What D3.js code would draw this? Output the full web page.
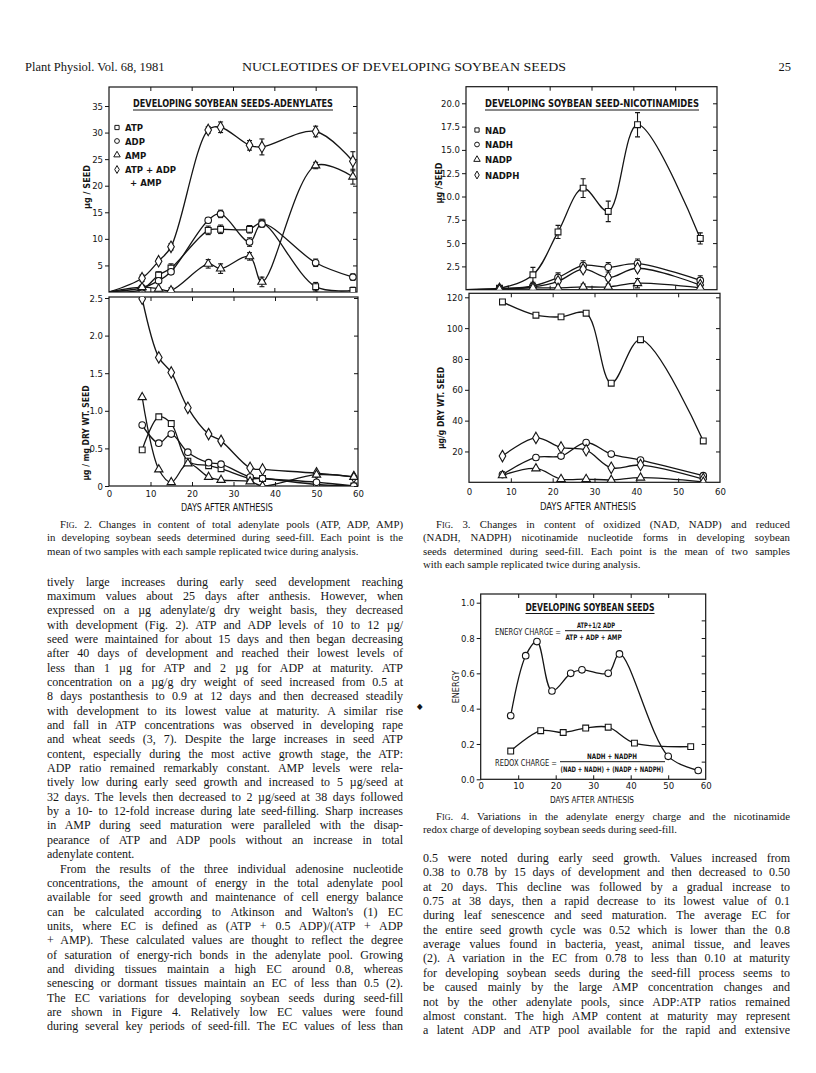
<!DOCTYPE html>
<html>
<head>
<meta charset="utf-8">
<script src="https://cdn.jsdelivr.net/npm/d3@7"></script>
<style>
  body { margin: 0; background: #fff; }
  svg { display: block; }
</style>
</head>
<body>
<svg id="page" width="816" height="1073"></svg>
<script>
// ---- Fig. 2 : adenylates, ug per seed (top panel) ----
const adenDaysSeed = [0, 8, 12, 15, 24, 27, 34, 37, 50, 59];
const atpSeed = [0, 0.5, 3.2, 4.5, 11.6, 11.8, 11.8, 13.0, 1.0, 0.3];
const adpSeed = [0, 0.8, 2.1, 3.8, 13.5, 14.7, 9.4, 12.8, 5.5, 2.8];
const ampSeed = [0, 0.9, 0.6, 0.3, 5.3, 4.4, 6.7, 1.9, 23.8, 21.7];
const totSeed = [0, 2.6, 5.8, 8.5, 30.5, 31.0, 27.6, 27.3, 30.2, 24.6];
const atpSeedErr = [0, 0, 0.6, 0.8, 0.8, 0.8, 0.7, 0.7, 0.8, 0.6];
const adpSeedErr = [0, 0, 0, 0, 0.5, 0.7, 0.8, 0.6, 0.7, 0.6];
const ampSeedErr = [0, 0, 0, 0.5, 0.8, 0.9, 0.7, 0.9, 0.6, 1.4];
const totSeedErr = [0, 0.6, 0.5, 0.6, 0.6, 1.0, 0.9, 1.5, 1.0, 1.8];

// ---- Fig. 2 : adenylates, ug per mg dry wt (bottom panel) ----
const adenDaysDry = [8, 12, 15, 19, 24, 27, 34, 37, 50, 59];
const atpDry = [0.48, 0.92, 0.83, 0.33, 0.27, 0.23, 0.10, 0.10, 0.02, 0.0];
const adpDry = [0.81, 0.57, 0.69, 0.45, 0.31, 0.29, 0.12, 0.10, 0.05, 0.0];
const ampDry = [1.18, 0.22, 0.05, 0.30, 0.12, 0.08, 0.06, 0.0, 0.15, 0.12];
const totDry = [2.49, 1.71, 1.51, 1.04, 0.69, 0.60, 0.24, 0.22, 0.17, 0.12];

// ---- Fig. 3 : nicotinamides ----
const nicDaysSeed = [0, 8, 16, 22, 28, 34, 41, 56];
const nadSeed = [0, 0.15, 1.6, 6.2, 10.9, 8.4, 17.7, 5.5];
const nadhSeed = [0, 0.1, 0.4, 1.3, 2.6, 2.4, 2.8, 1.0];
const nadpSeed = [0, 0.05, 0.2, 0.2, 0.3, 0.3, 0.7, 0.2];
const nadphSeed = [0, 0.1, 0.3, 0.9, 2.2, 1.3, 2.3, 0.5];
const nadSeedErr = [0, 0.1, 0.8, 0.7, 1.0, 1.1, 1.3, 0.6];
const nadhSeedErr = [0, 0, 0.2, 0.5, 0.5, 0.5, 0.5, 0.5];
const nadpSeedErr = [0, 0, 0, 0, 0.3, 0.3, 0.5, 0.2];
const nadphSeedErr = [0, 0, 0, 0, 0.3, 0.3, 0.3, 0];

const nicDaysDry = [8, 16, 22, 28, 34, 41, 56];
const nadDry = [117, 108.4, 107.3, 109.7, 64.3, 92.5, 26.8];
const nadhDry = [5, 16.1, 17, 25.8, 18.3, 14.4, 4.3];
const nadpDry = [4.5, 9, 2.1, 2.1, 1.5, 3, 0.3];
const nadphDry = [17, 28.8, 22.6, 20.8, 9.4, 11.2, 2.1];

// ---- Fig. 4 : energy / redox charge ----
const ecDays = [8, 12, 15, 19, 24, 27, 34, 37, 50, 58];
const energyCharge = [0.36, 0.70, 0.78, 0.50, 0.60, 0.62, 0.60, 0.71, 0.13, 0.05];
const rcDays = [8, 16, 22, 28, 34, 41, 56];
const redoxCharge = [0.16, 0.275, 0.265, 0.29, 0.295, 0.205, 0.185];

// legends / tick labels
const adenLegend = ["ATP", "ADP", "AMP", "ATP + ADP"];
const nicLegend = ["NAD", "NADH", "NADP", "NADPH"];
const dayTicks = [0, 10, 20, 30, 40, 50, 60];
const innerDayTicks = [10, 20, 30, 40, 50];

// page text
const headerLeft = "Plant Physiol. Vol. 68, 1981";
const headerTitle = "NUCLEOTIDES OF DEVELOPING SOYBEAN SEEDS";
const headerPage = "25";

const fig2Caption = [
  "Fig. 2. Changes in content of total adenylate pools (ATP, ADP, AMP)",
  "in developing soybean seeds determined during seed-fill. Each point is the",
  "mean of two samples with each sample replicated twice during analysis."
];
const fig3Caption = [
  "Fig. 3. Changes in content of oxidized (NAD, NADP) and reduced",
  "(NADH, NADPH) nicotinamide nucleotide forms in developing soybean",
  "seeds determined during seed-fill. Each point is the mean of two samples",
  "with each sample replicated twice during analysis."
];
const fig4Caption = [
  "Fig. 4. Variations in the adenylate energy charge and the nicotinamide",
  "redox charge of developing soybean seeds during seed-fill."
];

const leftText = [
  "tively large increases during early seed development reaching",
  "maximum values about 25 days after anthesis. However, when",
  "expressed on a µg adenylate/g dry weight basis, they decreased",
  "with development (Fig. 2). ATP and ADP levels of 10 to 12 µg/",
  "seed were maintained for about 15 days and then began decreasing",
  "after 40 days of development and reached their lowest levels of",
  "less than 1 µg for ATP and 2 µg for ADP at maturity. ATP",
  "concentration on a µg/g dry weight of seed increased from 0.5 at",
  "8 days postanthesis to 0.9 at 12 days and then decreased steadily",
  "with development to its lowest value at maturity. A similar rise",
  "and fall in ATP concentrations was observed in developing rape",
  "and wheat seeds (3, 7). Despite the large increases in seed ATP",
  "content, especially during the most active growth stage, the ATP:",
  "ADP ratio remained remarkably constant. AMP levels were rela-",
  "tively low during early seed growth and increased to 5 µg/seed at",
  "32 days. The levels then decreased to 2 µg/seed at 38 days followed",
  "by a 10- to 12-fold increase during late seed-filling. Sharp increases",
  "in AMP during seed maturation were paralleled with the disap-",
  "pearance of ATP and ADP pools without an increase in total",
  "adenylate content.",
  "From the results of the three individual adenosine nucleotide",
  "concentrations, the amount of energy in the total adenylate pool",
  "available for seed growth and maintenance of cell energy balance",
  "can be calculated according to Atkinson and Walton's (1) EC",
  "units, where EC is defined as (ATP + 0.5 ADP)/(ATP + ADP",
  "+ AMP). These calculated values are thought to reflect the degree",
  "of saturation of energy-rich bonds in the adenylate pool. Growing",
  "and dividing tissues maintain a high EC around 0.8, whereas",
  "senescing or dormant tissues maintain an EC of less than 0.5 (2).",
  "The EC variations for developing soybean seeds during seed-fill",
  "are shown in Figure 4. Relatively low EC values were found",
  "during several key periods of seed-fill. The EC values of less than"
];
const leftParaEnd = [19];
const leftIndent = [20];

const rightText = [
  "0.5 were noted during early seed growth. Values increased from",
  "0.38 to 0.78 by 15 days of development and then decreased to 0.50",
  "at 20 days. This decline was followed by a gradual increase to",
  "0.75 at 38 days, then a rapid decrease to its lowest value of 0.1",
  "during leaf senescence and seed maturation. The average EC for",
  "the entire seed growth cycle was 0.52 which is lower than the 0.8",
  "average values found in bacteria, yeast, animal tissue, and leaves",
  "(2). A variation in the EC from 0.78 to less than 0.10 at maturity",
  "for developing soybean seeds during the seed-fill process seems to",
  "be caused mainly by the large AMP concentration changes and",
  "not by the other adenylate pools, since ADP:ATP ratios remained",
  "almost constant. The high AMP content at maturity may represent",
  "a latent ADP and ATP pool available for the rapid and extensive"
];

const INK = "#151515";
const FIG_FONT = "'DejaVu Sans Condensed','Liberation Sans Narrow','DejaVu Sans',sans-serif";
const SERIF = "'Liberation Serif','DejaVu Serif',serif";

const svg = d3.select("#page");
svg.append("rect").attr("width", 816).attr("height", 1073).attr("fill", "#fff");

const SYM = {
  square: [d3.symbolSquare, 34],
  circle: [d3.symbolCircle, 34],
  triangle: [d3.symbolTriangle, 30],
  diamond: [d3.symbolDiamond, 38]
};

let clipCount = 0;

// box + ticks; left ticks point out, the rest point in
function frame(g, x, y, top, o) {
  const [xl, xr] = x.range();
  const yb = y.range()[0];
  g.append("rect")
    .attr("x", xl).attr("y", top)
    .attr("width", xr - xl).attr("height", yb - top)
    .attr("fill", "none").attr("stroke", INK).attr("stroke-width", 1.2);

  g.append("g").attr("transform", `translate(${xl},0)`)
    .call(d3.axisLeft(y).tickValues(o.yTicks).tickFormat(o.yFmt).tickSize(4).tickPadding(2));
  g.append("g").attr("transform", `translate(${xr},0)`)
    .call(d3.axisLeft(y).tickValues(o.yRight || o.yTicks).tickFormat("").tickSize(4));
  g.append("g").attr("transform", `translate(0,${top})`)
    .call(d3.axisBottom(x).tickValues(innerDayTicks).tickFormat("").tickSize(4));
  g.append("g").attr("transform", `translate(0,${yb})`)
    .call(d3.axisTop(x).tickValues(innerDayTicks).tickFormat("").tickSize(4));
  if (o.xLabels) {
    g.append("g").attr("transform", `translate(0,${yb})`)
      .call(d3.axisBottom(x).tickValues(dayTicks).tickFormat(d3.format("d"))
        .tickSize(0).tickPadding(o.xPad || 5));
  }
  g.selectAll(".domain").remove();
  g.selectAll(".tick line").attr("stroke", INK).attr("stroke-width", 1);
  g.selectAll(".tick text").attr("fill", INK)
    .attr("font-family", FIG_FONT).attr("font-size", o.fontSize || 9.5);

  // clip for curves
  const id = "clip" + (clipCount++);
  g.append("clipPath").attr("id", id).append("rect")
    .attr("x", xl).attr("y", top).attr("width", xr - xl).attr("height", yb - top);
  return g.append("g").attr("clip-path", `url(#${id})`);
}

function series(g, x, y, days, vals, sym, errs) {
  const pts = days.map((d, i) => [d, vals[i]]);
  const line = d3.line()
    .x(d => x(d[0])).y(d => y(d[1]))
    .curve(d3.curveCatmullRom.alpha(0.5));
  g.append("path").datum(pts).attr("d", line)
    .attr("fill", "none").attr("stroke", INK).attr("stroke-width", 1.3);

  if (errs) {
    pts.forEach((p, i) => {
      const e = errs[i];
      if (!e) return;
      const cx = x(p[0]);
      g.append("line").attr("x1", cx).attr("x2", cx)
        .attr("y1", y(p[1] - e)).attr("y2", y(p[1] + e))
        .attr("stroke", INK).attr("stroke-width", 1.1);
      [p[1] - e, p[1] + e].forEach(v => {
        g.append("line").attr("x1", cx - 2.5).attr("x2", cx + 2.5)
          .attr("y1", y(v)).attr("y2", y(v))
          .attr("stroke", INK).attr("stroke-width", 1.1);
      });
    });
  }

  const [type, size] = SYM[sym];
  g.selectAll(null).data(pts.filter(p => p[0] > 0)).enter()
    .append("path")
    .attr("d", d3.symbol().type(type).size(size))
    .attr("transform", d => `translate(${x(d[0])},${y(d[1])})`)
    .attr("fill", "#fff").attr("stroke", INK).attr("stroke-width", 1.1);
}

function figText(g, str, x, y, o = {}) {
  const t = g.append("text").attr("x", x).attr("y", y)
    .attr("font-family", FIG_FONT).attr("font-size", o.size || 10)
    .attr("font-weight", o.weight || "normal")
    .attr("fill", INK).attr("text-anchor", o.anchor || "start").text(str);
  if (o.rotate) t.attr("transform", `rotate(-90,${x},${y})`);
  if (o.len) t.attr("textLength", o.len).attr("lengthAdjust", "spacingAndGlyphs");
  return t;
}

function title(g, str, cx, y, len) {
  figText(g, str, cx, y, { anchor: "middle", size: 10.5, weight: "bold", len: len });
  g.append("line").attr("x1", cx - len / 2).attr("x2", cx + len / 2)
    .attr("y1", y + 3).attr("y2", y + 3).attr("stroke", INK).attr("stroke-width", 1.2);
}

function legend(g, names, syms, x, ys) {
  names.forEach((n, i) => {
    const [type] = SYM[syms[i]];
    g.append("path").attr("d", d3.symbol().type(type).size(18))
      .attr("transform", `translate(${x},${ys[i]})`)
      .attr("fill", "#fff").attr("stroke", INK).attr("stroke-width", 1);
    figText(g, n, x + 8, ys[i] + 3.5, { size: 9.5, weight: "bold" });
  });
}

// ================= Fig. 2 =================
const f2 = svg.append("g");
const x2a = d3.scaleLinear([0, 60], [109, 357]);
const x2b = d3.scaleLinear([0, 60], [109, 358]);
const y2a = d3.scaleLinear([0, 35], [292, 106]);
const y2b = d3.scaleLinear([0, 2.5], [486, 298]);

const p2a = frame(f2, x2a, y2a, 87, { yTicks: [5, 10, 15, 20, 25, 30, 35], yFmt: d3.format("d") });
series(p2a, x2a, y2a, adenDaysSeed, totSeed, "diamond", totSeedErr);
series(p2a, x2a, y2a, adenDaysSeed, atpSeed, "square", atpSeedErr);
series(p2a, x2a, y2a, adenDaysSeed, adpSeed, "circle", adpSeedErr);
series(p2a, x2a, y2a, adenDaysSeed, ampSeed, "triangle", ampSeedErr);

const p2b = frame(f2, x2b, y2b, 297, {
  yTicks: [0, 0.5, 1, 1.5, 2, 2.5],
  yFmt: v => v === 0 ? "0" : d3.format(".1f")(v),
  xLabels: true, xPad: 4
});
series(p2b, x2b, y2b, adenDaysDry, totDry, "diamond");
series(p2b, x2b, y2b, adenDaysDry, atpDry, "square");
series(p2b, x2b, y2b, adenDaysDry, adpDry, "circle");
series(p2b, x2b, y2b, adenDaysDry, ampDry, "triangle");

title(f2, "DEVELOPING SOYBEAN SEEDS-ADENYLATES", 233, 107, 200);
legend(f2, adenLegend, ["square", "circle", "triangle", "diamond"], 117, [127.5, 141, 155, 169.5]);
figText(f2, "+ AMP", 130, 186, { size: 9.5, weight: "bold" });
figText(f2, "µg / SEED", 90, 187, { anchor: "middle", rotate: true, weight: "bold", size: 9 });
figText(f2, "µg / mg DRY WT. SEED", 89, 433, { anchor: "middle", rotate: true, weight: "bold", size: 9, len: 95 });
figText(f2, "DAYS  AFTER ANTHESIS", 227, 511, { anchor: "middle", size: 10, len: 92 });

// ================= Fig. 3 =================
const f3 = svg.append("g");
const x3a = d3.scaleLinear([0, 60], [466, 717]);
const x3b = d3.scaleLinear([0, 60], [469, 720]);
const y3a = d3.scaleLinear([0, 20], [289.7, 103.3]);
const y3b = d3.scaleLinear([0, 120], [482.3, 297.3]);

const p3a = frame(f3, x3a, y3a, 86.7, { yTicks: [2.5, 5, 7.5, 10, 12.5, 15, 17.5, 20], yFmt: d3.format(".1f") });
series(p3a, x3a, y3a, nicDaysSeed, nadSeed, "square", nadSeedErr);
series(p3a, x3a, y3a, nicDaysSeed, nadhSeed, "circle", nadhSeedErr);
series(p3a, x3a, y3a, nicDaysSeed, nadphSeed, "diamond", nadphSeedErr);
series(p3a, x3a, y3a, nicDaysSeed, nadpSeed, "triangle", nadpSeedErr);

const p3b = frame(f3, x3b, y3b, 293.3, {
  yTicks: [20, 40, 60, 80, 100, 120], yFmt: d3.format("d"), xLabels: true, xPad: 6
});
series(p3b, x3b, y3b, nicDaysDry, nadDry, "square");
series(p3b, x3b, y3b, nicDaysDry, nadhDry, "circle");
series(p3b, x3b, y3b, nicDaysDry, nadphDry, "diamond");
series(p3b, x3b, y3b, nicDaysDry, nadpDry, "triangle");

title(f3, "DEVELOPING SOYBEAN SEED-NICOTINAMIDES", 592, 107, 214);
legend(f3, nicLegend, ["square", "circle", "triangle", "diamond"], 477, [130, 144.5, 159.5, 175]);
figText(f3, "µg /SEED", 442, 183, { anchor: "middle", rotate: true, weight: "bold", size: 9 });
figText(f3, "µg/g DRY WT. SEED", 444, 408, { anchor: "middle", rotate: true, weight: "bold", size: 9, len: 82 });
figText(f3, "DAYS  AFTER  ANTHESIS", 588, 510, { anchor: "middle", size: 10, len: 96 });

// ================= Fig. 4 =================
const f4 = svg.append("g");
const x4 = d3.scaleLinear([0, 60], [480.7, 705.7]);
const y4 = d3.scaleLinear([0, 1], [779.3, 602.7]);
const p4 = frame(f4, x4, y4, 594, {
  yTicks: [0, 0.2, 0.4, 0.6, 0.8, 1.0],
  yRight: d3.range(1, 10).map(v => v / 10),
  yFmt: d3.format(".1f"),
  xLabels: true, xPad: 3
});
series(p4, x4, y4, ecDays, energyCharge, "circle");
series(p4, x4, y4, rcDays, redoxCharge, "square");

title(f4, "DEVELOPING SOYBEAN SEEDS", 590, 610.5, 129);
figText(f4, "ENERGY CHARGE =", 495, 635, { size: 9, len: 66 });
figText(f4, "ATP+1/2 ADP", 596, 627.5, { anchor: "middle", size: 7.5, weight: "bold", len: 38 });
f4.append("line").attr("x1", 565).attr("x2", 622).attr("y1", 630.7).attr("y2", 630.7)
  .attr("stroke", INK).attr("stroke-width", 1);
figText(f4, "ATP + ADP + AMP", 593.5, 639.5, { anchor: "middle", size: 7.5, weight: "bold", len: 56 });

figText(f4, "REDOX CHARGE =", 495, 766, { size: 9, len: 62 });
figText(f4, "NADH + NADPH", 612, 758.5, { anchor: "middle", size: 7.5, weight: "bold", len: 50 });
f4.append("line").attr("x1", 560).attr("x2", 665).attr("y1", 761.7).attr("y2", 761.7)
  .attr("stroke", INK).attr("stroke-width", 1);
figText(f4, "(NAD + NADH) + (NADP + NADPH)", 612, 771.5, { anchor: "middle", size: 7.5, weight: "bold", len: 103 });
figText(f4, "ENERGY", 459, 687, { anchor: "middle", rotate: true, size: 9 });
figText(f4, "DAYS AFTER ANTHESIS", 592, 803, { anchor: "middle", size: 9.5, len: 84 });
// little scan mark left of the figure
figText(f4, "◆", 417, 709, { size: 8 });

// ================= page text =================
const txt = svg.append("g").attr("fill", INK).attr("font-family", SERIF);

function textLine(str, x, y, width, size, justify) {
  const t = txt.append("text").attr("x", x).attr("y", y).attr("font-size", size);
  if (str.startsWith("Fig.")) {
    t.append("tspan").style("font-variant", "small-caps").text("Fig.");
    t.append("tspan").text(str.slice(4));
  } else {
    t.text(str);
  }
  if (justify) {
    const w = t.node().getComputedTextLength();
    const n = (str.match(/ /g) || []).length;
    if (n > 0) t.attr("word-spacing", (width - w) / n);
  }
}

function block(lines, x, y0, width, step, size, opts = {}) {
  lines.forEach((s, i) => {
    const indent = (opts.indent || []).includes(i) ? 13 : 0;
    const last = (opts.ends || []).includes(i);
    textLine(s, x + indent, y0 + i * step, width - indent, size, !last);
  });
}

// header
txt.append("text").attr("x", 25).attr("y", 71).attr("font-size", 12.5).text(headerLeft);
txt.append("text").attr("x", 242).attr("y", 71).attr("font-size", 12.5)
  .attr("textLength", 324).attr("lengthAdjust", "spacingAndGlyphs").text(headerTitle);
txt.append("text").attr("x", 791).attr("y", 71).attr("font-size", 12.5)
  .attr("text-anchor", "end").text(headerPage);

block(fig2Caption, 47, 528, 356, 13.3, 10.8, { indent: [0], ends: [2] });
block(fig3Caption, 423, 528, 367, 13.3, 10.8, { indent: [0], ends: [3] });
block(fig4Caption, 423, 820, 367, 13.3, 10.8, { indent: [0], ends: [1] });

block(leftText, 47, 585.5, 356, 14.35, 12, { indent: leftIndent, ends: leftParaEnd });
block(rightText, 423, 862, 367, 14.35, 12);
</script>
</body>
</html>
